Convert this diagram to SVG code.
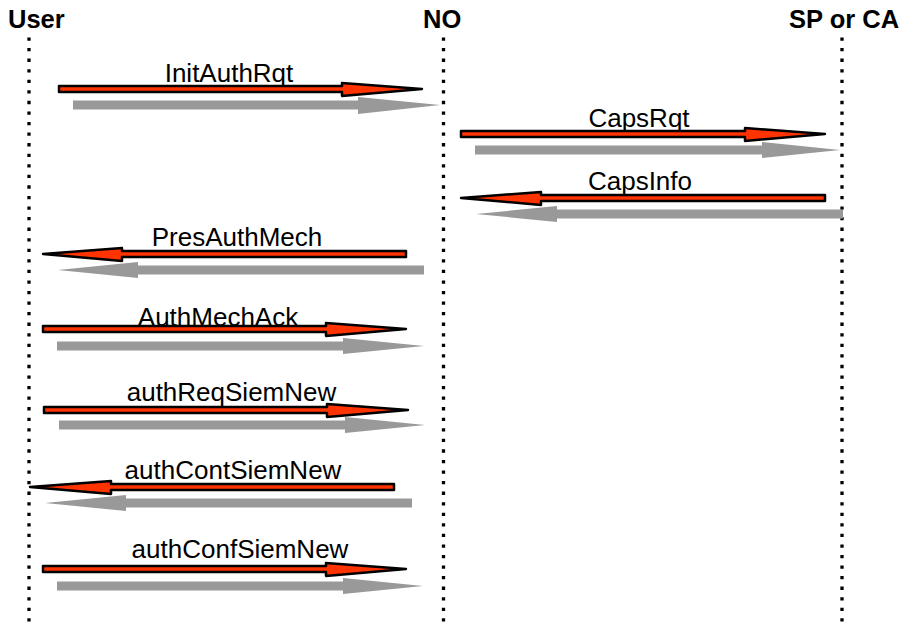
<svg xmlns="http://www.w3.org/2000/svg" width="908" height="624" viewBox="0 0 908 624">
<style>
.hdr{font-family:"Liberation Sans",Arial,sans-serif;font-weight:bold;font-size:25.5px;fill:#000}
.lbl{font-family:"Liberation Sans",Arial,sans-serif;font-size:26px;fill:#000;text-anchor:middle}
.life{stroke:#000;stroke-width:3.3;stroke-dasharray:3.3 7.26;fill:none}
.red{fill:#ff3300;stroke:#000;stroke-width:2.5;stroke-linejoin:round}
.gray{fill:#999999;stroke:none}
</style>
<rect width="908" height="624" fill="#fff"/>
<g id="lifelines">
<g id="user"><text class="hdr" x="8" y="28">User</text><line class="life" x1="29" y1="37.5" x2="29" y2="624"/></g>
<g id="no"><text class="hdr" x="423" y="28">NO</text><line class="life" x1="443.5" y1="37.5" x2="443.5" y2="624"/></g>
<g id="spca"><text class="hdr" x="789" y="28">SP or CA</text><line class="life" x1="842" y1="37.5" x2="842" y2="624"/></g>
</g>
<g id="connectors">
<g id="m1">
<polygon class="gray" points="73,100.5 358,100.5 358,97 440,105 358,114 358,109.5 73,109.5"/>
<polygon class="red" points="59,86 342,86 342,83 422,89 342,96 342,92 59,92"/>
<text class="lbl" x="229" y="82">InitAuthRqt</text>
</g>
<g id="m2">
<polygon class="gray" points="475,145.5 762,145.5 762,142 840,150 762,158 762,154.5 475,154.5"/>
<polygon class="red" points="461,131 745,131 745,128 825,134 745,141 745,137 461,137"/>
<text class="lbl" x="639" y="127">CapsRqt</text>
</g>
<g id="m3">
<polygon class="gray" points="843,209.5 557,209.5 557,206 476,214 557,222 557,218.5 843,218.5"/>
<polygon class="red" points="825,195 541,195 541,192 461,198 541,205 541,201 825,201"/>
<text class="lbl" x="640" y="190">CapsInfo</text>
</g>
<g id="m4">
<polygon class="gray" points="424,265.5 138,265.5 138,262 58,270 138,278 138,274.5 424,274.5"/>
<polygon class="red" points="406,251 122,251 122,248 43,254 122,261 122,257 406,257"/>
<text class="lbl" x="237" y="246">PresAuthMech</text>
</g>
<g id="m5">
<polygon class="gray" points="57,341.5 343,341.5 343,338 424,346 343,354 343,350.5 57,350.5"/>
<polygon class="red" points="43,326 326,326 326,323 406,329 326,336 326,332 43,332"/>
<text class="lbl" x="218" y="326">AuthMechAck</text>
</g>
<g id="m6">
<polygon class="gray" points="59,420.5 345,420.5 345,417 425,425 345,433 345,429.5 59,429.5"/>
<polygon class="red" points="44,407 327,407 327,404 408,410 327,417 327,413 44,413"/>
<text class="lbl" x="231.5" y="401">authReqSiemNew</text>
</g>
<g id="m7">
<polygon class="gray" points="412,498.5 126,498.5 126,495 45,503 126,511 126,507.5 412,507.5"/>
<polygon class="red" points="394,484 111,484 111,481 30,487 111,494 111,490 394,490"/>
<text class="lbl" x="233" y="479">authContSiemNew</text>
</g>
<g id="m8">
<polygon class="gray" points="57,581.5 343,581.5 343,578 423,586 343,594 343,590.5 57,590.5"/>
<polygon class="red" points="43,566 326,566 326,563 406,569 326,576 326,572 43,572"/>
<text class="lbl" x="240" y="558">authConfSiemNew</text>
</g>
</g>
</svg>
